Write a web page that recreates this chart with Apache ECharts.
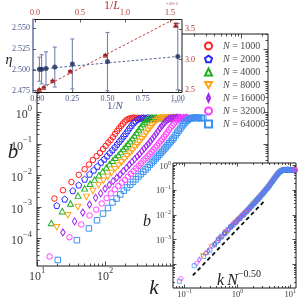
<!DOCTYPE html>
<html>
<head>
<meta charset="utf-8">
<script src="https://cdn.jsdelivr.net/npm/echarts@6/dist/echarts.min.js"></script>
<style>html,body{margin:0;padding:0;background:#fff;}#c{width:300px;height:300px;}</style>
</head>
<body>
<div id="c"></div>
<script>
// ---------------- data ----------------
const sizesN = [1000, 2000, 4000, 8000, 16000, 32000, 64000];

const k1000 = [18,24,32,41,50,58,66,75,84,93,102,111,120,130,140,150,160,171,182,194,206,219,233,248,264,281,300,320,342,366,392];
const b1000 = [1.86e-3,3.4e-3,6.2e-3,1.05e-2,1.58e-2,2.24e-2,3.1e-2,4.1e-2,5.2e-2,6.9e-2,8.7e-2,0.11,0.132,0.166,0.209,0.257,0.309,0.372,0.437,0.513,0.575,0.617,0.646,0.661,0.69,0.66,0.676,0.646,0.676,0.661,0.646];

const k2000 = [19.5,25.5,33.5,41,50,59,68,77,87,97,107,117,128,139,150,162,174,187,200,214,229,245,262,280,300,321,344,368,394,422,452,484,518,555];
const b2000 = [1.12e-3,1.78e-3,3.3e-3,5.0e-3,7.6e-3,1.1e-2,1.48e-2,1.95e-2,2.63e-2,3.3e-2,4.17e-2,5.25e-2,6.46e-2,7.94e-2,9.8e-2,0.12,0.145,0.178,0.214,0.263,0.324,0.389,0.468,0.537,0.603,0.646,0.661,0.676,0.661,0.692,0.661,0.676,0.646,0.661];

const k4000 = [16.2,23.5,31,40,50,60,70,81,92,104,116,129,142,156,170,185,200,216,233,251,270,290,311,333,357,382,409,437,467,499,533,569,607,648,690,735,780];
const b4000 = [3.1e-4,7.4e-4,1.3e-3,2.3e-3,3.9e-3,5.5e-3,7.4e-3,1.02e-2,1.35e-2,1.78e-2,2.29e-2,2.95e-2,3.63e-2,4.47e-2,5.5e-2,6.9e-2,8.3e-2,0.102,0.123,0.151,0.186,0.229,0.288,0.347,0.427,0.50,0.575,0.617,0.661,0.676,0.661,0.69,0.661,0.676,0.646,0.676,0.661];

const k8000 = [19.5,28.4,39.8,53,66,80,94,109,124,140,156,173,191,210,230,251,273,296,320,345,371,398,426,455,486,518,552,588,626,666,708,752,798,846,896,948,1000,1060,1120];
const b8000 = [2.3e-4,5.5e-4,1.0e-3,2.1e-3,3.2e-3,4.9e-3,6.8e-3,9.1e-3,1.2e-2,1.58e-2,2.04e-2,2.57e-2,3.24e-2,4.07e-2,5.0e-2,6.2e-2,7.8e-2,9.3e-2,0.115,0.141,0.17,0.214,0.263,0.316,0.38,0.457,0.525,0.589,0.631,0.661,0.676,0.661,0.69,0.661,0.676,0.646,0.676,0.661,0.676];

const k16000 = [24,35.6,47,59,72.5,86,100,115,131,148,166,185,205,226,248,271,295,320,346,373,401,430,460,492,525,560,596,634,674,716,760,806,854,905,958,1010,1070,1130,1200,1270,1340,1420,1500,1580];
const b16000 = [1.56e-4,3.5e-4,6.7e-4,1.2e-3,1.95e-3,2.7e-3,3.8e-3,5.0e-3,6.6e-3,8.5e-3,1.07e-2,1.38e-2,1.74e-2,2.19e-2,2.69e-2,3.31e-2,3.98e-2,4.79e-2,5.9e-2,7.1e-2,8.5e-2,0.1,0.12,0.145,0.174,0.209,0.251,0.309,0.363,0.427,0.501,0.562,0.617,0.646,0.661,0.676,0.661,0.692,0.661,0.676,0.646,0.676,0.661,0.676];

const k32000 = [15.3,30,44.7,59,74,89,105,121,138,156,175,195,216,238,261,285,310,336,363,391,420,450,481,513,546,580,616,653,692,733,776,821,868,917,968,1020,1080,1140,1200,1270,1340,1410,1490,1570,1650,1740,1830,1920,2020,2120,2230];
const b32000 = [2.7e-5,1.1e-4,2.8e-4,5.4e-4,8.3e-4,1.29e-3,1.91e-3,2.69e-3,3.63e-3,4.68e-3,5.89e-3,7.24e-3,9.1e-3,1.12e-2,1.38e-2,1.66e-2,2.0e-2,2.4e-2,2.95e-2,3.47e-2,4.07e-2,4.79e-2,5.6e-2,6.6e-2,7.8e-2,8.9e-2,0.105,0.123,0.141,0.166,0.2,0.234,0.282,0.331,0.38,0.437,0.501,0.562,0.603,0.646,0.661,0.676,0.661,0.692,0.661,0.676,0.646,0.676,0.661,0.676,0.661];

const k64000 = [20.2,38.5,57.8,76,93,110,128,147,167,188,210,233,257,282,308,335,363,392,422,453,485,518,552,587,623,660,698,738,780,824,870,918,968,1020,1080,1140,1200,1270,1340,1410,1490,1570,1650,1740,1830,1930,2030,2140,2250,2370,2490,2620,2760];
const b64000 = [2.1e-5,8.9e-5,2.1e-4,3.8e-4,6.2e-4,9.3e-4,1.4e-3,1.86e-3,2.51e-3,3.31e-3,4.17e-3,5.13e-3,6.3e-3,7.6e-3,9.3e-3,1.1e-2,1.32e-2,1.55e-2,1.82e-2,2.19e-2,2.57e-2,2.95e-2,3.47e-2,3.98e-2,4.57e-2,5.25e-2,6.0e-2,6.9e-2,7.9e-2,9.1e-2,0.105,0.12,0.138,0.158,0.19,0.224,0.263,0.309,0.363,0.417,0.479,0.537,0.589,0.631,0.646,0.676,0.661,0.692,0.661,0.676,0.646,0.676,0.661];

// top inset: eta vs 1/N (x in units of 1e-3) and vs 1/L (x in units of 1e-2, right axis)
const invN = [0.015625, 0.03125, 0.0625, 0.125, 0.25, 0.5, 1.0];
const etaN = [2.5008, 2.5008, 2.5017, 2.5034, 2.5072, 2.5100, 2.5160];
const etaNErr = [0.0145, 0.0175, 0.0200, 0.0240, 0.0300, 0.0350, 0.0400];
const invL = [0.0488, 0.0977, 0.1953, 0.3906, 0.7813, 1.5625];
const etaL = [2.513, 2.546, 2.655, 2.814, 3.077, 3.571];
const etaLErr = [0.004, 0.004, 0.005, 0.006, 0.008, 0.028];
const fitNx = [-0.03, 1.03];
const fitNy = [2.5002, 2.5166];
const fitLx = [0.0, 1.633];
const fitLy = [2.475, 3.734];

// lower inset guide line
const guideX = [0.143, 3.41];
const guideY = [3.6e-5, 0.041];

// tick labels
const tickInvN = [0, 0.25, 0.5, 0.75, 1.0];
const tickInvL = [0, 0.5, 1.0, 1.5];
const tickEta = [2.475, 2.5, 2.525, 2.55];
const tickEtaL = [2.5, 3.0, 3.5];
const mainXLabelExp = [1, 2];
const mainYLabelExp = [-4, -3, -2, -1, 0];
const insXLabelExp = [-1, 0, 1];
const insYLabelExp = [-3, -2, -1, 0];

// ---------------- styling / layout ----------------
const FONT = '"Liberation Serif", "DejaVu Serif", serif';
const TXT = '#3a3a3a';
const SLATE = '#4a5a8c';
const BRICK = '#b03232';
const MX = [1, 4.39], MY = [-4.87, 2.486];
const IX = [-1.22, 1.11], IY = [-4.95, 0.10];
const TX = [-0.03, 1.03], TL = [-0.022, 1.633], TE = [2.4728, 2.5606], TR = [2.459, 3.661];

const styles = [
  {color:'#ff1e1e', symbol:'circle', size:[5.5,5.5]},
  {color:'#2a2aff', symbol:'path://M0,-1 L0.951,-0.309 L0.588,0.809 L-0.588,0.809 L-0.951,-0.309 Z', size:[6,6]},
  {color:'#1fae1f', symbol:'triangle', size:[6,5.5]},
  {color:'#ffa31a', symbol:'path://M0,0 L2,0 L1,1.732 Z', size:[6,5.5]},
  {color:'#a020f0', symbol:'path://M1,0 L1.65,1.5 L1,3 L0.35,1.5 Z', size:[4.5,7]},
  {color:'#ff3cff', symbol:'circle', size:[5.5,5.5]},
  {color:'#3a92f0', symbol:'rect', size:[5.5,5.5]}
];
const kArr = [k1000,k2000,k4000,k8000,k16000,k32000,k64000];
const bArr = [b1000,b2000,b4000,b8000,b16000,b32000,b64000];

function majorExps(r){const o=[];for(let e=Math.ceil(r[0]);e<=Math.floor(r[1]);e++)o.push(e);return o;}
function minorExps(r){const o=[];for(let e=Math.floor(r[0]);e<=Math.ceil(r[1]);e++){for(let m=2;m<=9;m++){const v=e+Math.log10(m);if(v>r[0]+1e-6&&v<r[1]-1e-6)o.push(v);}}return o;}
function expText(v){const e=Math.round(v);return (e<0?'\u2212':'')+Math.abs(e);}

const xAxes=[], yAxes=[];
function addX(o){xAxes.push(o);return xAxes.length-1;}
function addY(o){yAxes.push(o);return yAxes.length-1;}

function powLabel(fs, ss, lh, margin, color){
  return {
    show:true, margin, color,
    formatter: v => '{b|10}{s|' + expText(v) + '}',
    rich:{
      b:{fontSize:fs, fontFamily:FONT, color, lineHeight:lh, verticalAlign:'bottom'},
      s:{fontSize:ss, fontFamily:FONT, color, verticalAlign:'top'}
    }
  };
}
function deco(grid, pos, range, ticks, len, z, labels, labelOpt){
  const ax = {
    type:'value', gridIndex:grid, position:pos, min:range[0], max:range[1], z,
    axisLine:{show:false, onZero:false}, splitLine:{show:false},
    axisTick:{show:true, inside:true, length:len, customValues:ticks, lineStyle:{color:'#222', width:0.8}},
    axisLabel:{show:false}
  };
  if (labels) ax.axisLabel = Object.assign({customValues:labels}, labelOpt);
  return ax;
}

// main grid axes
const mX = addX({type:'log', gridIndex:0, min:Math.pow(10,MX[0]), max:Math.pow(10,MX[1]), show:false});
const mY = addY({type:'log', gridIndex:0, min:Math.pow(10,MY[0]), max:Math.pow(10,MY[1]), show:false});
addX(deco(0,'bottom',MX,majorExps(MX),4.5,1,mainXLabelExp,powLabel(12,8.5,17,0,TXT)));
addX(deco(0,'bottom',MX,minorExps(MX),2.5,1));
addX(deco(0,'top',MX,majorExps(MX),4.5,1));
addX(deco(0,'top',MX,minorExps(MX),2.5,1));
addY(deco(0,'left',MY,majorExps(MY),4.5,1,mainYLabelExp,powLabel(12,8.5,17,5,TXT)));
addY(deco(0,'left',MY,minorExps(MY),2.5,1));
addY(deco(0,'right',MY,majorExps(MY),4.5,1));
addY(deco(0,'right',MY,minorExps(MY),2.5,1));

// lower inset axes
const iX = addX({type:'log', gridIndex:2, min:Math.pow(10,IX[0]), max:Math.pow(10,IX[1]), show:false});
const iY = addY({type:'log', gridIndex:2, min:Math.pow(10,IY[0]), max:Math.pow(10,IY[1]), show:false});
addX(deco(2,'bottom',IX,majorExps(IX),3.5,7,insXLabelExp,powLabel(8.5,6,11,0,TXT)));
addX(deco(2,'bottom',IX,minorExps(IX),2,7));
addX(deco(2,'top',IX,majorExps(IX),3.5,7));
addX(deco(2,'top',IX,minorExps(IX),2,7));
addY(deco(2,'left',IY,majorExps(IY),3.5,7,insYLabelExp,powLabel(8.5,6,11,2,TXT)));
addY(deco(2,'left',IY,minorExps(IY),2,7));
addY(deco(2,'right',IY,majorExps(IY),3.5,7));
addY(deco(2,'right',IY,minorExps(IY),2,7));

// top inset axes
function valAxis(pos, range, ticks, color, fmt, margin, axisLine){
  return {
    type:'value', gridIndex:1, position:pos, min:range[0], max:range[1], z:7,
    axisLine: axisLine || {show:false, onZero:false}, splitLine:{show:false},
    axisTick:{show:true, inside:true, length:3, customValues:ticks, lineStyle:{color:'#333', width:0.8}},
    axisLabel:{show:true, customValues:ticks, formatter:fmt, margin, color, fontSize:8, fontFamily:FONT}
  };
}
const tN = addX(valAxis('bottom', TX, tickInvN, SLATE, v=>v.toFixed(2), 2));
const tL = addX(valAxis('top', TL, tickInvL, BRICK, v=>v.toFixed(1), 3));
const tE = addY(valAxis('left', TE, tickEta, SLATE, v=>v.toFixed(3), 3, {show:true, onZero:false, lineStyle:{color:'#8e96b8', width:2}}));
const tR = addY(valAxis('right', TR, tickEtaL, BRICK, v=>v.toFixed(1), 3));

// ---------------- series ----------------
const series = [];
sizesN.forEach((N, i) => {
  const st = styles[i];
  const pts = [];
  const n = Math.min(kArr[i].length, bArr[i].length);
  for (let j = 0; j < n; j++) pts.push([kArr[i][j], bArr[i][j]]);
  series.push({
    name:String(N), type:'scatter', xAxisIndex:mX, yAxisIndex:mY, z:2, silent:true,
    symbol:st.symbol, symbolSize:st.size, data:pts,
    itemStyle:{color:'rgba(0,0,0,0)', borderColor:st.color, borderWidth:1, opacity:1}
  });
});
sizesN.forEach((N, i) => {
  const st = styles[i];
  const pts = [];
  const n = Math.min(kArr[i].length, bArr[i].length);
  const s = Math.sqrt(N);
  for (let j = 0; j < n; j++) pts.push([kArr[i][j] / s, bArr[i][j]]);
  series.push({
    name:'c'+N, type:'scatter', xAxisIndex:iX, yAxisIndex:iY, z:8, silent:true,
    symbol:st.symbol, symbolSize:[st.size[0]*0.75, st.size[1]*0.75], data:pts,
    itemStyle:{color:'rgba(0,0,0,0)', borderColor:st.color, borderWidth:0.9}
  });
});
series.push({
  type:'line', xAxisIndex:iX, yAxisIndex:iY, z:9, silent:true, showSymbol:false,
  data: guideX.map((x,i)=>[x, guideY[i]]),
  lineStyle:{color:'#111', width:1.8, type:[4,3]}
});

function errBars(xs, ys, es, xi, yi, color, cap){
  return {
    type:'custom', coordinateSystem:'cartesian2d', xAxisIndex:xi, yAxisIndex:yi, z:8, silent:true,
    data: xs.map((x,i)=>[x, ys[i]-es[i], ys[i]+es[i]]),
    encode:{x:0, y:[1,2]},
    renderItem(params, api){
      const lo = api.coord([api.value(0), api.value(1)]);
      const hi = api.coord([api.value(0), api.value(2)]);
      const st = {stroke:color, lineWidth:1.1};
      return {type:'group', children:[
        {type:'line', shape:{x1:lo[0],y1:lo[1],x2:hi[0],y2:hi[1]}, style:st},
        {type:'line', shape:{x1:lo[0]-cap,y1:lo[1],x2:lo[0]+cap,y2:lo[1]}, style:st},
        {type:'line', shape:{x1:hi[0]-cap,y1:hi[1],x2:hi[0]+cap,y2:hi[1]}, style:st}
      ]};
    }
  };
}
series.push({
  type:'line', xAxisIndex:tN, yAxisIndex:tE, z:8, silent:true, showSymbol:false,
  data: fitNx.map((x,i)=>[x, fitNy[i]]), lineStyle:{color:'#52629a', width:1, type:[2.5,2]}
});
series.push({
  type:'line', xAxisIndex:tL, yAxisIndex:tR, z:8, silent:true, showSymbol:false, clip:true,
  data: fitLx.map((x,i)=>[x, fitLy[i]]), lineStyle:{color:'#c84040', width:1, type:[2.5,2]}
});
series.push(errBars(invN, etaN, etaNErr, tN, tE, '#7583ad', 2));
series.push(errBars(invL, etaL, etaLErr, tL, tR, '#8c1c1c', 2));
series.push({
  type:'scatter', xAxisIndex:tN, yAxisIndex:tE, z:9, silent:true, symbol:'circle', symbolSize:5,
  data: invN.map((x,i)=>[x, etaN[i]]), itemStyle:{color:'#1c2a5c'}
});
series.push({
  type:'scatter', xAxisIndex:tL, yAxisIndex:tR, z:9, silent:true, symbol:'triangle', symbolSize:5.5,
  data: invL.map((x,i)=>[x, etaL[i]]), itemStyle:{color:'#a81e1e'}
});

// ---------------- texts ----------------
const graphic = [
  {type:'text', x:13, y:152, z:20, style:{text:'b', fontSize:21, fontStyle:'italic', fontFamily:FONT, fill:'#222', align:'center', verticalAlign:'middle'}},
  {type:'text', x:154, y:288, z:20, style:{text:'k', fontSize:21, fontStyle:'italic', fontFamily:FONT, fill:'#222', align:'center', verticalAlign:'middle'}},
  {type:'text', x:147, y:222, z:20, style:{text:'b', fontSize:16, fontStyle:'italic', fontFamily:FONT, fill:'#222', align:'center', verticalAlign:'middle'}},
  {type:'text', x:9, y:60, z:20, style:{text:'\u03B7', fontSize:14, fontStyle:'italic', fontFamily:FONT, fill:'#222', align:'center', verticalAlign:'middle'}},
  {type:'text', x:115, y:106, z:20, style:{text:'1/{i|N}', fontSize:11, fontFamily:FONT, fill:SLATE, align:'center', verticalAlign:'middle',
     rich:{i:{fontSize:11, fontStyle:'italic', fontFamily:FONT, fill:SLATE, color:SLATE}}}},
  {type:'text', x:112, y:6, z:20, style:{text:'1/{i|L}', fontSize:12, fontFamily:FONT, fill:BRICK, align:'center', verticalAlign:'middle',
     rich:{i:{fontSize:12, fontStyle:'italic', fontFamily:FONT, fill:BRICK, color:BRICK}}}},
  {type:'text', x:177, y:102, z:20, style:{text:'\u00D710{s|\u22123}', fontSize:5, fontFamily:FONT, fill:SLATE, align:'center', verticalAlign:'middle',
     rich:{s:{fontSize:4, fontFamily:FONT, fill:SLATE, color:SLATE}}}},
  {type:'text', x:172, y:4, z:20, style:{text:'\u00D710{s|\u22122}', fontSize:5, fontFamily:FONT, fill:BRICK, align:'center', verticalAlign:'middle',
     rich:{s:{fontSize:4, fontFamily:FONT, fill:BRICK, color:BRICK}}}},
  {type:'text', x:239, y:279, z:20, style:{text:'{i|k} {i|N}{s|\u22120.50}', fontFamily:FONT, fill:'#222', align:'center', verticalAlign:'middle',
     rich:{i:{fontSize:16, fontStyle:'italic', fontFamily:FONT, color:'#222', lineHeight:20, verticalAlign:'bottom'}, s:{fontSize:10, fontFamily:FONT, color:'#222', verticalAlign:'top'}}}}
];

const option = {
  animation:false,
  backgroundColor:'#fff',
  grid:[
    {left:37, top:34, width:231, height:232, show:true, borderColor:'#1a1a1a', borderWidth:1, backgroundColor:'rgba(0,0,0,0)', z:0, containLabel:false},
    {left:33, top:19.5, width:149, height:73, show:true, borderColor:'#1a1a1a', borderWidth:1, backgroundColor:'#fff', z:5, containLabel:false},
    {left:173, top:163, width:123, height:125, show:true, borderColor:'#1a1a1a', borderWidth:1, backgroundColor:'#fff', z:5, containLabel:false}
  ],
  xAxis:xAxes, yAxis:yAxes,
  legend:{
    data: sizesN.map(String), orient:'vertical', left:199, top:36, itemWidth:7, itemHeight:7, itemGap:3,
    selectedMode:false, z:6,
    formatter: name => '{i|N} = ' + name,
    textStyle:{fontFamily:FONT, fontSize:10, color:'#4a4a4a', lineHeight:10,
      rich:{i:{fontFamily:FONT, fontSize:10, fontStyle:'italic', color:'#4a4a4a', lineHeight:10, padding:[0,0,0,6]}}}
  },
  graphic,
  series
};
const chart = echarts.init(document.getElementById('c'), null, {renderer:'canvas'});
chart.setOption(option);
</script>
</body>
</html>
